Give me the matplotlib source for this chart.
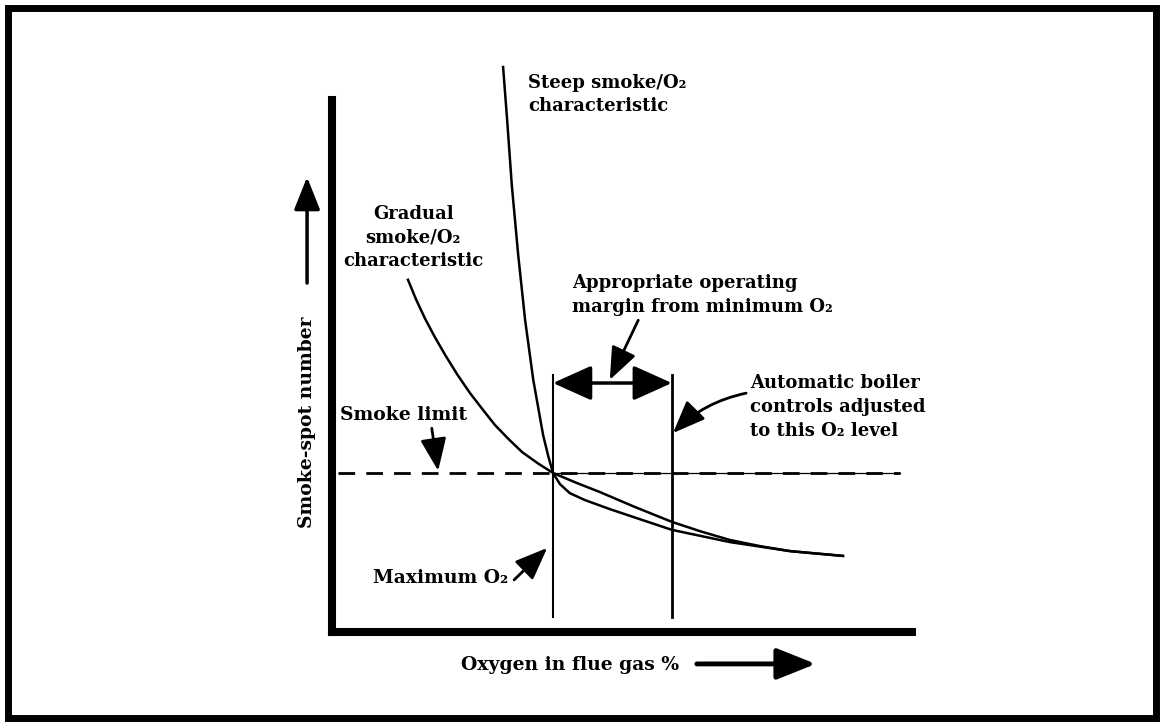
import matplotlib
matplotlib.use("Agg")
import matplotlib.pyplot as plt
from matplotlib.patches import Rectangle

# кривые дымности (условные единицы)
gradual_x = [1.31, 1.45, 1.60, 1.77, 1.95, 2.16, 2.38, 2.60, 2.81, 3.05, 3.28, 3.55, 3.81,
             4.20, 4.62, 5.20, 5.86, 6.36, 6.86, 7.40, 7.90, 8.81]
gradual_y = [6.62, 6.25, 5.90, 5.55, 5.21, 4.84, 4.49, 4.18, 3.89, 3.62, 3.38, 3.17, 2.99,
             2.81, 2.63, 2.36, 2.07, 1.89, 1.73, 1.61, 1.52, 1.43]

steep_x = [2.95, 3.02, 3.10, 3.21, 3.33, 3.47, 3.64, 3.73, 3.81, 3.93, 4.10, 4.36, 4.79,
           5.31, 5.86, 6.86, 7.90, 8.81]
steep_y = [10.62, 9.62, 8.40, 7.09, 5.86, 4.74, 3.70, 3.30, 2.99, 2.78, 2.61, 2.48, 2.31,
           2.12, 1.92, 1.69, 1.52, 1.43]

smoke_limit = 2.99
max_o2 = 3.81        # максимум O2 (точка пересечения)
set_o2 = 5.86        # уровень настройки автоматики
line_bottom, line_top = 0.28, 4.83

FONT = dict(family="DejaVu Serif", fontweight="bold", fontsize=13)
FONT_L = dict(FONT, fontsize=13.5)

fig = plt.figure(figsize=(11.63, 7.25), dpi=100)
ax = fig.add_axes([332 / 1163, 93 / 725, 580 / 1163, 532 / 725])
ax.set_xlim(0, 10)
ax.set_ylim(0, 10)
for s in ["top", "right"]:
    ax.spines[s].set_visible(False)
for s in ["left", "bottom"]:
    ax.spines[s].set_linewidth(5.8)
ax.set_xticks([])
ax.set_yticks([])

# рамка вокруг рисунка
fig.patches.append(Rectangle((7.5 / 1163, 7.5 / 725), 1148 / 1163, 710 / 725,
                             transform=fig.transFigure, fill=False, lw=5, ec="black"))

# линия предела дымности
ax.plot([0.1, 9.8], [smoke_limit, smoke_limit], color="black", lw=2, dashes=(6, 4))
ax.plot([max_o2, 9.8], [smoke_limit, smoke_limit], color="black", lw=0.9)

# кривые
ax.plot(gradual_x, gradual_y, color="black", lw=1.8)
ax.plot(steep_x, steep_y, color="black", lw=1.8, clip_on=False)

# вертикальные линии
ax.plot([max_o2, max_o2], [line_bottom, line_top], color="black", lw=1.5)
ax.plot([set_o2, set_o2], [line_bottom, line_top], color="black", lw=2)

big = dict(arrowstyle="-|>,head_length=1.0,head_width=0.4", color="black", lw=2,
           mutation_scale=20, shrinkA=0, shrinkB=0)

# двойная стрелка запаса
ax.annotate("", xy=(max_o2, 4.68), xytext=(set_o2, 4.68),
            arrowprops=dict(arrowstyle="<|-|>,head_length=1.0,head_width=0.45", color="black",
                            lw=2.5, mutation_scale=24, shrinkA=0, shrinkB=0))

# подписи и стрелки
ax.text(3.38, 10.11, "Steep smoke/O\u2082\ncharacteristic", ha="left", va="center",
        linespacing=1.35, **FONT)
ax.text(1.40, 7.41, "Gradual\nsmoke/O\u2082\ncharacteristic", ha="center", va="center",
        linespacing=1.4, **FONT)
ax.text(4.14, 6.33, "Appropriate operating\nmargin from minimum O\u2082", ha="left", va="center",
        linespacing=1.45, **FONT)
ax.annotate("", xy=(4.79, 4.74), xytext=(5.28, 5.86), arrowprops=big)
ax.text(7.21, 4.23, "Automatic boiler\ncontrols adjusted\nto this O\u2082 level", ha="left",
        va="center", linespacing=1.4, **FONT)
ax.annotate("", xy=(5.88, 3.74), xytext=(7.14, 4.49),
            arrowprops=dict(big, connectionstyle="arc3,rad=0.15"))
ax.text(0.14, 4.08, "Smoke limit", ha="left", va="center", **FONT_L)
ax.annotate("", xy=(1.83, 3.03), xytext=(1.72, 3.83), arrowprops=big)
ax.text(0.71, 1.02, "Maximum O\u2082", ha="left", va="center", **FONT_L)
ax.annotate("", xy=(3.71, 1.58), xytext=(3.14, 0.98), arrowprops=big)

# подписи осей
ax.text(-0.43, 3.95, "Smoke-spot number", rotation=90, ha="center", va="center",
        clip_on=False, **FONT_L)
ax.annotate("", xy=(-0.43, 8.55), xytext=(-0.43, 6.56), annotation_clip=False,
            arrowprops=dict(big, lw=2.5))
ax.text(4.10, -0.62, "Oxygen in flue gas %", ha="center", va="center", clip_on=False, **FONT_L)
ax.annotate("", xy=(8.34, -0.60), xytext=(6.29, -0.60), annotation_clip=False,
            arrowprops=dict(big, lw=3.5, mutation_scale=24))

fig.savefig("out.png", dpi=100)
